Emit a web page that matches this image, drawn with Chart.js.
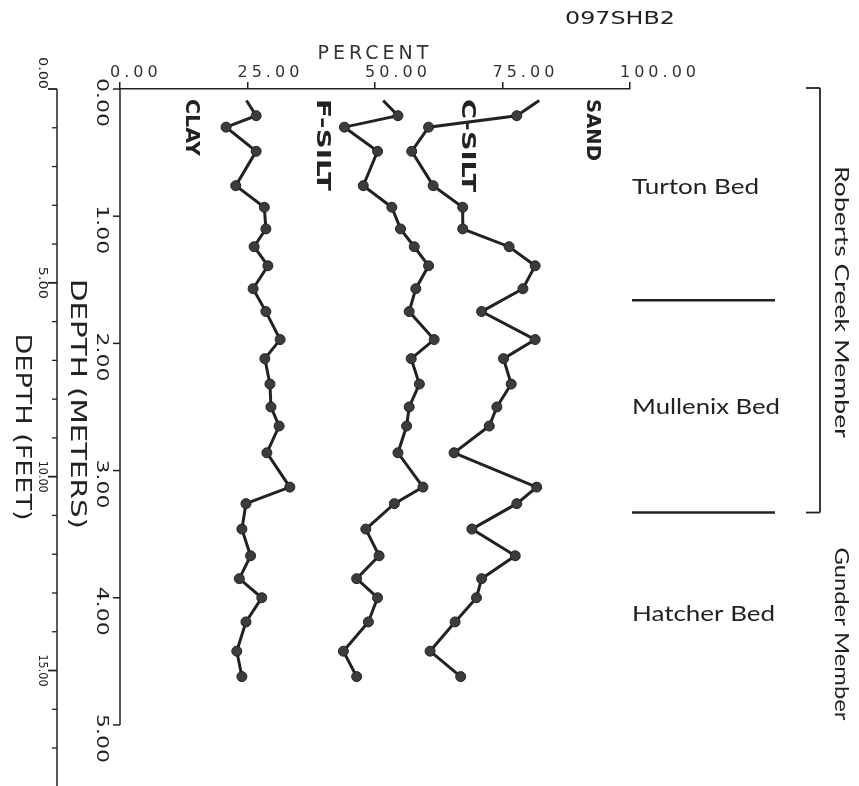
<!DOCTYPE html>
<html lang="en">
<head>
<meta charset="utf-8">
<title>097SHB2</title>
<script src="https://cdn.jsdelivr.net/npm/chart.js@4.4.1/dist/chart.umd.min.js"></script>
<style>
  html, body { margin: 0; padding: 0; background: #fff; }
  #graphique { display: block; }
</style>
</head>
<body>
<canvas id="graphique" width="859" height="786"></canvas>
<script>
// --- DONNÉES ---
// profondeur des échantillons (m) et pourcentages cumulés
const profondeurs = [0.09, 0.21, 0.30, 0.49, 0.76, 0.93, 1.10, 1.24, 1.39, 1.57, 1.75, 1.97, 2.12,
                     2.32, 2.50, 2.65, 2.86, 3.13, 3.26, 3.46, 3.67, 3.85, 4.00, 4.19, 4.42, 4.62];
const argile = [24.8, 26.7, 20.8, 26.7, 22.7, 28.3, 28.6, 26.3, 29.0, 26.1, 28.6, 31.4, 28.4,
                29.4, 29.6, 31.2, 28.8, 33.3, 24.7, 23.9, 25.6, 23.4, 27.8, 24.7, 22.9, 23.9];
const siltFin = [51.6, 54.5, 44.0, 50.5, 47.7, 53.3, 55.0, 57.7, 60.5, 58.0, 56.7, 61.6, 57.1,
                 58.7, 56.7, 56.2, 54.5, 59.4, 53.8, 48.2, 50.8, 46.4, 50.5, 48.7, 43.8, 46.4];
const siltGrossier = [82.2, 77.8, 60.5, 57.2, 61.4, 67.2, 67.2, 76.3, 81.4, 79.0, 70.9, 81.4, 75.2,
                      76.7, 73.9, 72.4, 65.5, 81.7, 77.8, 69.0, 77.5, 70.9, 69.9, 65.7, 60.8, 66.8];
const etiquettesSeries = ['CLAY', 'F-SILT', 'C-SILT', 'SAND'];
const ticksPourcent = [0, 25, 50, 75, 100];
const ticksMetres = [0, 1, 2, 3, 4, 5];
const ticksPiedsLabels = [0, 5, 10, 15];
const couches = ['Turton Bed', 'Mullenix Bed', 'Hatcher Bed'];
const limitesCouches = [1.66, 3.33]; // m
const membres = ['Roberts Creek Member', 'Gunder Member'];

// --- RÉGLAGES DE MISE EN PAGE ---
const ENCRE = '#222';
const PROF_MAX = 5.48;      // bas de la zone de tracé (m)
const M_PAR_PIED = 0.3048;
const POLICE_AXE = '16px "DejaVu Sans"';
const POLICE_PETITE = '12px "DejaVu Sans"';
const POLICE_TITRE = '22px "DejaVu Sans"';
const POLICE_SERIE = 'bold 19px "DejaVu Sans"';
const POLICE_COUCHE = '21px Lato';

// une série = liste de points {x: %, y: profondeur}
function serie(valeurs) {
    return valeurs.map((v, i) => ({ x: v, y: profondeurs[i] }));
}

// texte tourné de 90° (lu de haut en bas), étiré à la longueur voulue
function texteTourne(ctx, txt, x, y, longueur, police, ancre) {
    ctx.save();
    ctx.font = police;
    const w = ctx.measureText(txt).width;
    ctx.translate(x, y);
    ctx.rotate(Math.PI / 2);
    ctx.scale(longueur / w, 1);
    ctx.textBaseline = 'middle';
    ctx.textAlign = ancre === 'debut' ? 'left' : (ancre === 'fin' ? 'right' : 'center');
    ctx.fillText(txt, 0, 0);
    ctx.restore();
}

// texte horizontal étiré à la longueur voulue
function texteDroit(ctx, txt, x, y, longueur, police, ancre) {
    ctx.save();
    ctx.font = police;
    const w = ctx.measureText(txt).width;
    ctx.translate(x, y);
    ctx.scale(longueur / w, 1);
    ctx.textBaseline = 'middle';
    ctx.textAlign = ancre === 'debut' ? 'left' : 'center';
    ctx.fillText(txt, 0, 0);
    ctx.restore();
}

function trait(ctx, x1, y1, x2, y2) {
    ctx.beginPath();
    ctx.moveTo(x1, y1);
    ctx.lineTo(x2, y2);
    ctx.stroke();
}

// --- PLUGIN : graduations verticales, textes et repères autour du graphique ---
const habillage = {
    id: 'habillage',
    beforeDraw(chart) {
        // la police « traceur » de l'original est très large
        chart.ctx.letterSpacing = '4px';
    },
    afterDraw(chart) {
        const ctx = chart.ctx;
        const sx = chart.scales.x;
        const sy = chart.scales.y;
        const sp = chart.scales.yPieds;
        const zone = chart.chartArea;

        ctx.save();
        ctx.letterSpacing = '0px';
        ctx.fillStyle = ENCRE;
        ctx.strokeStyle = ENCRE;

        // axe des mètres, arrêté à 5 m, avec ses graduations
        ctx.lineWidth = 1.5;
        trait(ctx, zone.left, sy.getPixelForValue(0), zone.left, sy.getPixelForValue(5));
        sy.ticks.forEach(t => {
            const y = sy.getPixelForValue(t.value);
            trait(ctx, zone.left - 7, y, zone.left, y);
        });

        // axe des pieds : graduation à chaque pied, plus longue tous les 5
        trait(ctx, sp.right, zone.top, sp.right, zone.bottom);
        sp.ticks.forEach(t => {
            const y = sp.getPixelForValue(t.value);
            const majeur = ticksPiedsLabels.includes(t.value);
            ctx.lineWidth = majeur ? 1.8 : 1.3;
            trait(ctx, sp.right - (majeur ? 9 : 5), y, sp.right, y);
        });

        // étiquettes des profondeurs
        ticksMetres.forEach(v => {
            texteTourne(ctx, v.toFixed(2), 101, sy.getPixelForValue(v) - 11, 49, POLICE_AXE, 'debut');
        });
        ticksPiedsLabels.forEach(v => {
            const ancre = v === 0 ? 'fin' : 'centre';
            texteTourne(ctx, v.toFixed(2), 42, sp.getPixelForValue(v), 32, POLICE_PETITE, ancre);
        });
        texteTourne(ctx, 'DEPTH (METERS)', 77, 404, 250, POLICE_TITRE, 'centre');
        texteTourne(ctx, 'DEPTH (FEET)', 22, 427, 187, POLICE_TITRE, 'centre');

        // noms des fractions en haut des courbes
        const posSeries = [13.9, 39.6, 68.0, 92.5];   // en %
        const longSeries = [57, 92, 93, 62];
        etiquettesSeries.forEach((nom, i) => {
            texteTourne(ctx, nom, sx.getPixelForValue(posSeries[i]), 99, longSeries[i], POLICE_SERIE, 'debut');
        });

        // code de l'échantillon
        texteDroit(ctx, '097SHB2', 620, 20, 110, '17px "DejaVu Sans"', 'centre');

        // couches et limites
        const yCouches = [0.77, 2.5, 4.13];   // m
        const longCouches = [127, 148, 143];
        couches.forEach((nom, i) => {
            texteDroit(ctx, nom, 632, sy.getPixelForValue(yCouches[i]), longCouches[i], POLICE_COUCHE, 'debut');
        });
        ctx.lineWidth = 2.5;
        limitesCouches.forEach(p => {
            const y = sy.getPixelForValue(p);
            trait(ctx, 632, y, 775, y);
        });

        // accolade du membre Roberts Creek
        ctx.lineWidth = 1.8;
        const yHaut = sy.getPixelForValue(0) - 1;
        const yBas = sy.getPixelForValue(limitesCouches[1]);
        trait(ctx, 806, yHaut, 820, yHaut);
        trait(ctx, 820, yHaut, 820, yBas);
        trait(ctx, 806, yBas, 820, yBas);
        texteTourne(ctx, membres[0], 841, 302, 272, '20px Lato', 'centre');
        texteTourne(ctx, membres[1], 841, 634, 173, '20px Lato', 'centre');

        ctx.restore();
    }
};

// --- STYLE COMMUN DES COURBES ---
function jeu(label, valeurs) {
    return {
        label: label,
        data: serie(valeurs),
        showLine: true,
        borderColor: ENCRE,
        borderWidth: 3,
        pointRadius: c => c.dataIndex === 0 ? 0 : 5,
        pointBackgroundColor: '#3c3c3c',
        pointBorderColor: ENCRE,
        pointBorderWidth: 1,
        yAxisID: 'y'
    };
}

const ctx = document.getElementById('graphique').getContext('2d');

new Chart(ctx, {
    type: 'scatter',
    data: {
        datasets: [
            jeu('CLAY', argile),
            jeu('F-SILT', siltFin),
            jeu('C-SILT', siltGrossier)
        ]
    },
    options: {
        responsive: false,
        animation: false,
        devicePixelRatio: 1,
        layout: { autoPadding: false, padding: { top: 29, left: 0, right: 229, bottom: 0 } },
        plugins: {
            legend: { display: false },
            tooltip: { enabled: false }
        },
        scales: {
            x: {
                type: 'linear',
                position: 'top',
                min: 0,
                max: 100,
                afterBuildTicks: s => { s.ticks = ticksPourcent.map(v => ({ value: v })); },
                afterFit: s => { s.height = 60; },
                ticks: {
                    callback: v => v.toFixed(2),
                    align: 'start',
                    labelOffset: -10,
                    padding: 0,
                    maxRotation: 0,
                    autoSkip: false,
                    color: '#333',
                    font: { family: '"DejaVu Sans"', size: 16 }
                },
                grid: { drawOnChartArea: false, tickLength: 7, color: ENCRE, lineWidth: 1.5 },
                border: { display: true, color: ENCRE, width: 1.5 },
                title: {
                    display: true,
                    text: 'PERCENT',
                    color: '#333',
                    font: { family: '"DejaVu Sans"', size: 19 },
                    padding: { top: 14, bottom: 0 }
                }
            },
            y: {
                type: 'linear',
                position: 'left',
                reverse: true,
                min: 0,
                max: PROF_MAX,
                weight: 0,
                afterBuildTicks: s => { s.ticks = ticksMetres.map(v => ({ value: v })); },
                afterFit: s => { s.width = 63; },
                ticks: { display: false },
                grid: { display: false },
                border: { display: false }
            },
            yPieds: {
                type: 'linear',
                position: 'left',
                reverse: true,
                min: 0,
                max: PROF_MAX / M_PAR_PIED,
                weight: 1,
                afterFit: s => { s.width = 57; },
                ticks: { display: false, stepSize: 1, includeBounds: false },
                grid: { display: false },
                border: { display: false }
            }
        }
    },
    plugins: [habillage]
});
</script>
</body>
</html>
